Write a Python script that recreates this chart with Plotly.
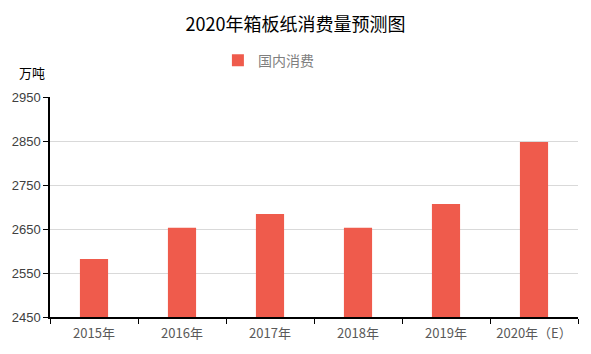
import plotly.graph_objects as go

categories = ["2015年", "2016年", "2017年", "2018年", "2019年", "2020年（E）"]
values = [2582, 2653, 2684, 2653, 2707, 2848]
series_name = "国内消费"
y_ticks = [2450, 2550, 2650, 2750, 2850, 2950]

fig = go.Figure()
fig.add_trace(go.Bar(
    x=categories, y=values, name=series_name,
    marker=dict(color="#EF5B4C", line=dict(width=0)),
))

font_cjk = "Noto Sans CJK SC, Liberation Sans, sans-serif"

fig.update_layout(
    width=591, height=354,
    margin=dict(l=50, r=13, t=97, b=35),
    paper_bgcolor="white", plot_bgcolor="white",
    bargap=0.68,
    showlegend=True,
    title=dict(text="2020年箱板纸消费量预测图", x=0.5, xanchor="center",
               y=1 - 25/354, yanchor="middle", yref="container",
               font=dict(family=font_cjk, size=18, color="#000000")),
    legend=dict(orientation="h", x=0.318, xanchor="left", y=1.165, yanchor="middle",
                font=dict(family=font_cjk, size=14, color="#7f7f7f"),
                itemwidth=30, bgcolor="rgba(0,0,0,0)"),
    xaxis=dict(type="category", showline=True, linecolor="#000000", linewidth=1.5,
               ticks="outside", tickson="boundaries", ticklen=5, tickcolor="#000000",
               ticklabelstandoff=4,
               tickfont=dict(family=font_cjk, size=13, color="#595959"),
               showgrid=False),
    yaxis=dict(range=[2450, 2950], tickvals=y_ticks, showline=True, linecolor="#000000",
               linewidth=1.5, ticks="outside", ticklen=5, tickcolor="#000000",
               tickfont=dict(family="Liberation Sans, sans-serif", size=13, color="#404040"),
               showgrid=True, gridcolor="#d9d9d9", gridwidth=1, zeroline=False),
    annotations=[dict(text="万吨", xref="paper", yref="paper", x=-50/528 + 17/528, y=(319-72)/222,
                      xanchor="left", yanchor="middle", showarrow=False,
                      font=dict(family=font_cjk, size=13, color="#000000"))],
)

fig.write_html("out.html")
